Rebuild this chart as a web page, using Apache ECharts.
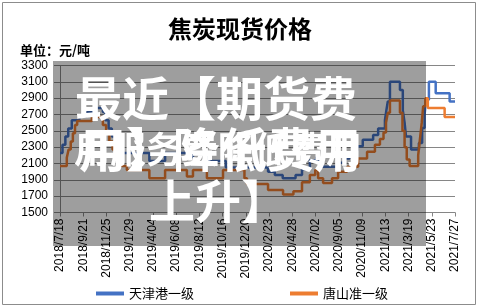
<!DOCTYPE html>
<html><head><meta charset="utf-8">
<script src="https://cdn.jsdelivr.net/npm/echarts@6/dist/echarts.min.js"></script>
<style>html,body{margin:0;padding:0;background:#fff}#c{width:480px;height:308px}</style>
</head><body><div id="c"></div>
<script>
const titleText = '焦炭现货价格';
const unitText = '单位：元/吨';
const seriesNames = ['天津港一级', '唐山准一级'];
const xTickLabels = ['2018/7/18','2018/9/21','2018/11/25','2019/1/29','2019/4/04','2019/6/08','2019/8/12','2019/10/16','2019/12/20','2020/2/23','2020/4/28','2020/7/02','2020/9/05','2020/11/09','2021/1/13','2021/3/19','2021/5/23','2021/7/27'];
const yTicks = [1500, 3300, 200];

const blueDates = ['2018-07-18','2018-07-25','2018-08-02','2018-08-10','2018-08-20','2018-09-10','2018-10-01','2018-10-20','2018-11-15','2018-11-22','2018-12-01','2018-12-10','2018-12-20','2019-01-05','2019-03-25','2019-05-08','2019-07-08','2019-07-25','2019-09-02','2019-10-25','2020-02-20','2020-03-10','2020-04-01','2020-05-07','2020-05-25','2020-06-16','2020-07-05','2020-07-12','2020-07-22','2020-09-05','2020-09-20','2020-10-05','2020-10-15','2020-10-26','2020-11-11','2020-12-10','2020-12-24','2021-01-12','2021-01-16','2021-01-20','2021-01-26','2021-02-23','2021-03-03','2021-03-08','2021-03-12','2021-03-26','2021-04-17','2021-04-26','2021-05-03','2021-05-07','2021-05-15','2021-06-03','2021-07-12','2021-07-27'];
const blueValues = [2230,2330,2430,2530,2630,2680,2730,2780,2730,2630,2530,2430,2330,2230,2130,2230,2180,2230,2130,2050,2000,1960,1920,1960,2030,2140,2180,2110,2060,2110,2160,2210,2260,2310,2390,2450,2530,2630,2750,2860,3100,3000,2750,2600,2430,2270,2350,2535,2700,2880,3100,2960,2860,2860];

const orangeDates = ['2018-07-18','2018-08-06','2018-08-11','2018-08-17','2018-08-23','2018-08-29','2018-09-04','2018-10-15','2018-11-15','2018-11-24','2018-12-03','2018-12-12','2018-12-22','2019-01-05','2019-01-21','2019-03-25','2019-05-08','2019-07-08','2019-07-25','2019-09-02','2019-10-17','2019-12-16','2019-12-23','2020-02-20','2020-04-02','2020-05-01','2020-05-25','2020-06-16','2020-07-01','2020-07-09','2020-07-23','2020-08-17','2020-09-03','2020-09-28','2020-10-29','2020-11-23','2020-12-15','2020-12-29','2021-01-08','2021-01-15','2021-01-20','2021-01-26','2021-02-23','2021-03-02','2021-03-08','2021-03-14','2021-03-22','2021-04-15','2021-04-20','2021-04-25','2021-04-29','2021-05-05','2021-05-12','2021-06-28','2021-07-27'];
const orangeValues = [2070,2170,2270,2370,2470,2570,2620,2670,2570,2470,2370,2270,2170,2070,2020,1920,2020,1940,2020,1920,2020,1920,1850,1775,1720,1760,1870,1960,2020,1920,1860,1920,2000,2060,2160,2245,2330,2400,2480,2600,2720,2870,2720,2500,2300,2150,2070,2200,2400,2600,2800,2900,2780,2670,2670];

const DAY = 86400000;
const origin = Date.UTC(2018, 6, 18);
function dayIndex(s) { const p = s.split('-').map(Number); return Math.round((Date.UTC(p[0], p[1]-1, p[2]) - origin) / DAY); }
const tickStep = 65;
const xMax = tickStep * (xTickLabels.length - 1);

const chart = echarts.init(document.getElementById('c'), null, {renderer: 'canvas'});
const axisColor = '#868686';
const lblFont = '"Liberation Sans", Arial, sans-serif';
const cjkFont = '"Noto Sans CJK SC", sans-serif';

chart.setOption({
  animation: false,
  backgroundColor: '#fff',
  title: {text: titleText, left: 'center', top: 12, textStyle: {fontFamily: cjkFont, fontSize: 24, fontWeight: 'bold', color: '#000'}},
  grid: {left: 60, right: 25, top: 65.5, bottom: 95.5, containLabel: false},
  legend: {
    left: 91, top: 282, itemWidth: 28, itemHeight: 4, itemGap: 96, icon: 'rect',
    textStyle: {fontFamily: cjkFont, fontSize: 13, color: '#000'},
    data: seriesNames
  },
  xAxis: {
    type: 'value', min: 0, max: xMax, interval: tickStep,
    axisLine: {show: true, lineStyle: {color: axisColor}},
    axisTick: {show: true, length: 4, lineStyle: {color: axisColor}},
    splitLine: {show: false},
    axisLabel: {rotate: 90, margin: 6, fontFamily: lblFont, fontSize: 12, color: '#000',
      showMinLabel: true, showMaxLabel: true,
      formatter: v => xTickLabels[Math.round(v / tickStep)] || ''}
  },
  yAxis: {
    type: 'value', min: yTicks[0], max: yTicks[1], interval: yTicks[2],
    axisLine: {show: true, lineStyle: {color: axisColor}},
    axisTick: {show: true, length: 6, lineStyle: {color: axisColor}},
    splitLine: {show: true, lineStyle: {color: axisColor, width: 1}},
    axisLabel: {margin: 12, fontFamily: lblFont, fontSize: 12, color: '#000', formatter: v => String(v)}
  },
  series: [
    {name: seriesNames[0], type: 'line', step: 'end', symbol: 'none', color: '#4472C4',
      lineStyle: {width: 2.5, color: '#4472C4'},
      data: blueDates.map((d, i) => [dayIndex(d), blueValues[i]])},
    {name: seriesNames[1], type: 'line', step: 'end', symbol: 'none', color: '#ED7D31',
      lineStyle: {width: 2.5, color: '#ED7D31'},
      data: orangeDates.map((d, i) => [dayIndex(d), orangeValues[i]])}
  ],
  graphic: [
    {type: 'rect', z: 0, silent: true, shape: {x: 2.5, y: 2.5, width: 473, height: 302}, style: {fill: 'none', stroke: '#8c8c8c', lineWidth: 1}},
    {type: 'text', z: 10, left: 20, top: 44, style: {text: unitText, font: 'bold 13px "Noto Sans CJK SC", sans-serif', fill: '#000'}},
    {type: 'rect', z: 100, silent: true, shape: {x: 53, y: 61, width: 373, height: 185}, style: {fill: 'rgba(0,0,0,0.38)'}},
    {type: 'text', z: 101, x: 216, y: 98, style: {text: '最近【期货费', font: 'bold 47px "Noto Sans CJK SC", sans-serif', fill: '#fff', textAlign: 'center', textVerticalAlign: 'middle'}},
    {type: 'text', z: 101, x: 218, y: 149, style: {text: '用服务费降低费用', font: 'bold 36px "Noto Sans CJK SC", sans-serif', fill: '#fff', textAlign: 'center', textVerticalAlign: 'middle'}},
    {type: 'text', z: 101, x: 220, y: 149, style: {text: '用】降低费用', font: 'bold 47px "Noto Sans CJK SC", sans-serif', fill: '#fff', textAlign: 'center', textVerticalAlign: 'middle'}},
    {type: 'text', z: 101, x: 218, y: 201, style: {text: '上升】', font: 'bold 46px "Noto Sans CJK SC", sans-serif', fill: '#fff', textAlign: 'center', textVerticalAlign: 'middle'}}
  ]
});
</script>
</body></html>
